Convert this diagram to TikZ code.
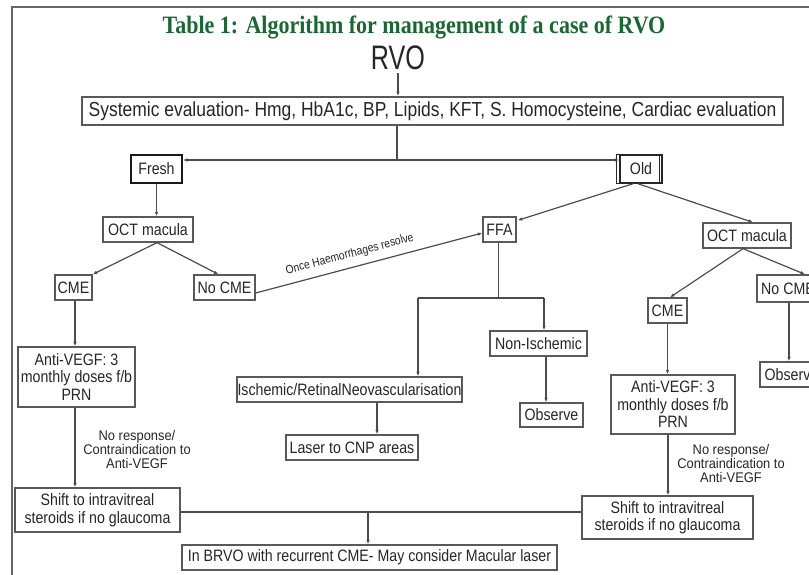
\documentclass[tikz,border=0pt]{standalone}
\usepackage{fontspec}
\setmainfont[FakeStretch=0.86]{Liberation Sans}
\newfontfamily\titlefont[FakeStretch=0.88]{Liberation Serif}
\newfontfamily\rvofont[FakeStretch=0.74]{Liberation Sans}
\newfontfamily\labfont[FakeStretch=0.92]{Liberation Sans}
\usetikzlibrary{arrows.meta,calc}
\definecolor{titlegreen}{RGB}{24,104,50}
\begin{document}
\begin{tikzpicture}[x=1pt,y=-1pt,
  box/.style={draw=black!65, line width=1.3pt, fill=white, text=black!85, inner sep=0pt, align=center, font=\fontsize{16.5}{17.5}\selectfont},
  conn/.style={draw=black!70, line width=1.2pt},
  arr/.style={conn, -{Latex[length=4.5pt,width=3.5pt]}},
  lab/.style={text=black!85, align=center, inner sep=0pt, font=\labfont\fontsize{14}{14}\selectfont}]
\useasboundingbox (0,0) rectangle (809,575);
\clip (0,0) rectangle (809,575);
\fill[white] (0,0) rectangle (809,575);
\draw[black!60, line width=1.5pt] (12,577) -- (12,7) -- (811,7);
% title and root
\node[text=titlegreen, font=\titlefont\bfseries\fontsize{25}{27}\selectfont, inner sep=0pt] (title) at (414,27) {Table 1: Algorithm for management of a case of RVO};
\node[text=black!85, font=\rvofont\fontsize{34}{36}\selectfont, inner sep=0pt] (rvo) at (398,58) {RVO};
% boxes
\node[box, line width=1.7pt, minimum width=701, minimum height=28, font=\fontsize{20.3}{21}\selectfont] (sys) at (432.5,111) {Systemic evaluation- Hmg, HbA1c, BP, Lipids, KFT, S. Homocysteine, Cardiac evaluation};
\node[box, draw=black!90, line width=2pt, minimum width=51, minimum height=28] (fresh) at (156.5,169) {Fresh};
\node[box, draw=black!85, line width=1.5pt, minimum width=42, minimum height=28] (old) at (641,169) {Old};
\draw[black!85, line width=1.3pt] ($(old.north west)+(-3,0)$) rectangle ($(old.south east)+(-3,0)$);
\node[box, minimum width=90, minimum height=25] (octL) at (148,229.5) {OCT macula};
\node[box, minimum width=37, minimum height=25] (cmeL) at (73.5,287.5) {CME};
\node[box, minimum width=61, minimum height=25] (nocmeL) at (224.5,287.5) {No CME};
\node[box, minimum width=33, minimum height=25] (ffa) at (499.5,229.5) {FFA};
\node[box, minimum width=88, minimum height=25] (octR) at (747,235.5) {OCT macula};
\node[box, minimum width=39, minimum height=25] (cmeR) at (667.5,310.5) {CME};
\node[box, minimum width=62, minimum height=27] (nocmeR) at (788,288.5) {No CME};
\node[box, minimum width=63, minimum height=25] (obsR) at (791.5,374.5) {Observe};
\node[box, minimum width=117, minimum height=60] (antiL) at (76.5,377) {Anti-VEGF: 3\\monthly doses f/b\\PRN};
\node[box, minimum width=124, minimum height=59] (antiR) at (673,404.5) {Anti-VEGF: 3\\monthly doses f/b\\PRN};
\node[box, minimum width=225, minimum height=25] (isch) at (349.5,389.5) {Ischemic/RetinalNeovascularisation};
\node[box, minimum width=97, minimum height=25] (nonisch) at (538.5,343.5) {Non-Ischemic};
\node[box, minimum width=63, minimum height=24] (obsM) at (551.5,415) {Observe};
\node[box, minimum width=132, minimum height=25] (laser) at (352,447.5) {Laser to CNP areas};
\node[box, minimum width=165, minimum height=44] (shiftL) at (97.5,510) {Shift to intravitreal\\steroids if no glaucoma};
\node[box, minimum width=171, minimum height=43] (shiftR) at (667.5,517.5) {Shift to intravitreal\\steroids if no glaucoma};
\node[box, minimum width=375, minimum height=25] (bot) at (369.5,557.5) {In BRVO with recurrent CME- May consider Macular laser};
% labels
\node[lab] (labL) at (137,449) {No response/\\Contraindication to\\Anti-VEGF};
\node[lab] (labR) at (731,463) {No response/\\Contraindication to\\Anti-VEGF};
% connectors
\draw[arr] ($(rvo.south)+(0,3)$) -- (sys.north -| rvo.south);
\coordinate (j1) at (397,160);
\draw[conn] (sys.south -| j1) -- (j1);
\draw[arr] (j1) -- (fresh.east |- j1);
\draw[arr] (j1) -- (old.west |- j1);
\draw[arr] (fresh.south) -- (octL.north -| fresh.south);
\draw[arr] ($(octL.south)+(9,0)$) -- (cmeL.north east);
\draw[arr] ($(octL.south)+(9,0)$) -- ($(nocmeL.north)+(-6,0)$);
\draw[arr] ($(nocmeL.east)+(0,5.5)$) -- node[lab, sloped, above=7pt, pos=0.43, font=\fontsize{12}{12}\selectfont] {Once Haemorrhages resolve} ($(ffa.west)+(0,3.5)$);
\draw[arr] ($(old.south)+(-8,0)$) -- ($(ffa.north east)+(1,4)$);
\draw[arr] ($(old.south)+(-3,0)$) -- ($(octR.north)+(6,0)$);
\draw[arr] ($(octR.south)+(-4,0)$) -- ($(cmeR.north)+(2.5,0)$);
\draw[arr] ($(octR.south)+(-4,0)$) -- ($(nocmeR.north)+(17,0)$);
\draw[arr] ($(nocmeR.south)+(1,0)$) -- ($(obsR.north)+(-2.5,0)$);
\coordinate (j2) at (498.5,298);
\draw[conn] (ffa.south -| j2) -- (j2);
\draw[conn] (418,298) coordinate (j2l) -- (544,298) coordinate (j2r);
\draw[arr] (j2l) -- (isch.north -| j2l);
\draw[arr] (j2r) -- (nonisch.north -| j2r);
\draw[arr] ($(isch.south)+(27.5,0)$) -- ($(laser.north)+(25,0)$);
\draw[arr] ($(nonisch.south)+(7.5,0)$) -- ($(obsM.north)+(-5.5,0)$);
\draw[arr] ($(cmeL.south)+(1.5,0)$) -- ($(antiL.north)+(-1.5,0)$);
\draw[arr] ($(antiL.south)+(-1.5,0)$) -- ($(shiftL.north)+(-22.5,0)$);
\draw[arr] (cmeR.south) -- (cmeR.south |- antiR.north);
\draw[arr] ($(antiR.south)+(-5,0)$) -- ($(shiftR.north)+(0.5,0)$);
\coordinate (j3) at (368,512);
\draw[conn] (shiftL.east |- j3) -- (shiftR.west |- j3);
\draw[arr] (j3) -- (bot.north -| j3);
\end{tikzpicture}
\end{document}
